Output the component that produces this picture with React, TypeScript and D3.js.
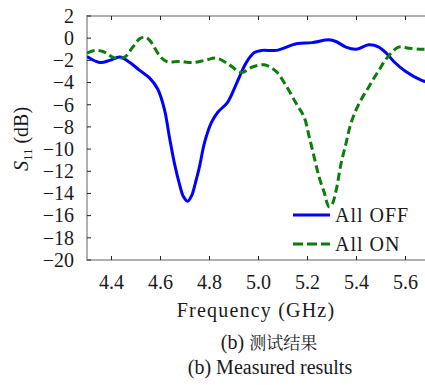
import React, {Component} from 'react'
import * as d3 from 'd3'

// All OFF (blue, solid)
const offFreq = [4.30, 4.353, 4.393, 4.434, 4.475, 4.515, 4.556, 4.589, 4.617, 4.637, 4.658, 4.678, 4.694, 4.711, 4.727, 4.743, 4.759, 4.780, 4.808, 4.833, 4.873, 4.902, 4.930, 4.950, 4.983, 5.015, 5.072, 5.154, 5.219, 5.288, 5.316, 5.357, 5.398, 5.450, 5.491, 5.524, 5.552, 5.601, 5.666, 5.70]
const offS11 = [-1.66, -2.2, -2.0, -1.7, -2.2, -2.9, -3.6, -4.6, -6.5, -9.0, -11.4, -13.2, -14.3, -14.7, -14.2, -13.0, -11.6, -9.4, -7.6, -6.7, -5.8, -4.5, -3.1, -2.2, -1.3, -1.1, -1.1, -0.5, -0.4, -0.15, -0.3, -0.8, -1.0, -0.6, -0.8, -1.4, -2.1, -3.0, -3.8, -4.0]

// All ON (green, dashed)
const onFreq = [4.30, 4.333, 4.365, 4.414, 4.454, 4.487, 4.515, 4.536, 4.556, 4.597, 4.625, 4.678, 4.731, 4.780, 4.828, 4.881, 4.930, 4.975, 5.024, 5.072, 5.113, 5.154, 5.186, 5.207, 5.227, 5.247, 5.268, 5.288, 5.300, 5.317, 5.337, 5.357, 5.377, 5.410, 5.450, 5.491, 5.524, 5.572, 5.613, 5.666, 5.70]
const onS11 = [-1.35, -1.1, -1.2, -1.8, -1.7, -0.8, -0.05, 0.1, -0.2, -1.6, -2.1, -2.1, -2.2, -2.0, -1.8, -2.4, -3.1, -2.6, -2.4, -3.0, -4.3, -5.9, -7.1, -8.9, -10.7, -12.5, -13.9, -15.2, -15.0, -13.7, -11.3, -9.5, -7.7, -5.9, -4.4, -2.9, -1.8, -0.8, -0.9, -1.0, -1.0]

const xTicks = [4.4, 4.6, 4.8, 5.0, 5.2, 5.4, 5.6]
const yTicks = [2, 0, -2, -4, -6, -8, -10, -12, -14, -16, -18, -20]
const legendNames = ['All OFF', 'All ON']

const W = 425, H = 385
const plot = {left: 87, right: 430, top: 16, bottom: 260}
const fontSize = 20
const ink = '#1a1a1a'
const blue = '#0000ff'
const green = '#0b7d0b'

class App extends Component {
  ref: SVGSVGElement | null = null

  draw() {
    const svg = d3.select(this.ref)
    svg.selectAll('*').remove()

    const x = d3.scaleLinear().domain([4.3, 5.7]).range([plot.left, plot.right])
    const y = d3.scaleLinear().domain([-20, 2]).range([plot.bottom, plot.top])

    // frame
    svg.append('rect')
      .attr('x', plot.left).attr('y', plot.top)
      .attr('width', plot.right - plot.left).attr('height', plot.bottom - plot.top)
      .attr('fill', 'none').attr('stroke', '#b0b0b0').attr('stroke-width', 2)

    // ticks (inward, on all four sides)
    const tk = 4
    xTicks.forEach(t => {
      svg.append('line').attr('x1', x(t)).attr('x2', x(t)).attr('y1', plot.bottom).attr('y2', plot.bottom - tk).attr('stroke', '#222')
      svg.append('line').attr('x1', x(t)).attr('x2', x(t)).attr('y1', plot.top).attr('y2', plot.top + tk).attr('stroke', '#222')
    })
    yTicks.forEach(t => {
      svg.append('line').attr('x1', plot.left).attr('x2', plot.left + tk).attr('y1', y(t)).attr('y2', y(t)).attr('stroke', '#222')
      svg.append('line').attr('x1', plot.right).attr('x2', plot.right - tk).attr('y1', y(t)).attr('y2', y(t)).attr('stroke', '#222')
    })

    svg.selectAll('xlab').data(xTicks).enter().append('text')
      .attr('x', d => x(d)).attr('y', 289)
      .attr('text-anchor', 'middle').attr('fill', ink)
      .text(d => d.toFixed(1))

    svg.selectAll('ylab').data(yTicks).enter().append('text')
      .attr('x', 74).attr('y', d => y(d)).attr('dy', '0.34em')
      .attr('text-anchor', 'end').attr('fill', ink)
      .text(d => (d < 0 ? '\u2212' + Math.abs(d) : String(d)))

    // curves
    const line = d3.line<[number, number]>()
      .x(d => x(d[0])).y(d => y(d[1]))
      .curve(d3.curveCatmullRom.alpha(0.5))

    const clip = svg.append('clipPath').attr('id', 'plotclip')
    clip.append('rect').attr('x', plot.left).attr('y', plot.top)
      .attr('width', plot.right - plot.left).attr('height', plot.bottom - plot.top)

    const g = svg.append('g').attr('clip-path', 'url(#plotclip)')
    g.append('path')
      .datum(offFreq.map((f, i) => [f, offS11[i]] as [number, number]))
      .attr('d', line).attr('fill', 'none')
      .attr('stroke', blue).attr('stroke-width', 3).attr('stroke-linejoin', 'round')
    g.append('path')
      .datum(onFreq.map((f, i) => [f, onS11[i]] as [number, number]))
      .attr('d', line).attr('fill', 'none')
      .attr('stroke', green).attr('stroke-width', 3).attr('stroke-dasharray', '8,4')

    // legend
    const leg = [{name: legendNames[0], color: blue, dash: null, yy: 215}, {name: legendNames[1], color: green, dash: '10,4', yy: 244}]
    leg.forEach(l => {
      svg.append('line').attr('x1', 293).attr('x2', 330).attr('y1', l.yy).attr('y2', l.yy)
        .attr('stroke', l.color).attr('stroke-width', 3).attr('stroke-dasharray', l.dash)
      svg.append('text').attr('x', 335).attr('y', l.yy + 7)
        .style('letter-spacing', '1px').attr('fill', ink)
        .text(l.name)
    })

    // axis titles
    svg.append('text').attr('x', 256).attr('y', 317).attr('text-anchor', 'middle')
      .style('letter-spacing', '1.2px').attr('fill', ink)
      .text('Frequency (GHz)')

    const yl = svg.append('text')
      .attr('transform', 'translate(28,139) rotate(-90)')
      .attr('text-anchor', 'middle').attr('fill', ink)
    yl.append('tspan').style('font-style', 'italic').text('S')
    yl.append('tspan').style('font-size', '13px').attr('dy', 4).text('11')
    yl.append('tspan').attr('dy', -4).text('\u00a0(dB)')

    // captions
    const cap = svg.append('text').attr('x', 269).attr('y', 349).attr('text-anchor', 'middle').attr('fill', ink)
    cap.append('tspan').text('(b) ')
    cap.append('tspan').style('font-family', '"Noto Serif CJK SC"').style('font-size', '17px').text('测试结果')

    svg.append('text').attr('x', 270).attr('y', 374).attr('text-anchor', 'middle').attr('fill', ink)
      .text('(b) Measured results')
  }

  componentDidMount() {
    document.body.style.margin = '0'
    this.draw()
  }

  render() {
    return (
      <svg ref={el => { this.ref = el }} width={W} height={H}
        style={{display: 'block', background: '#fff', fontFamily: '"Liberation Serif"', fontSize: fontSize}} />
    )
  }
}

export default App
